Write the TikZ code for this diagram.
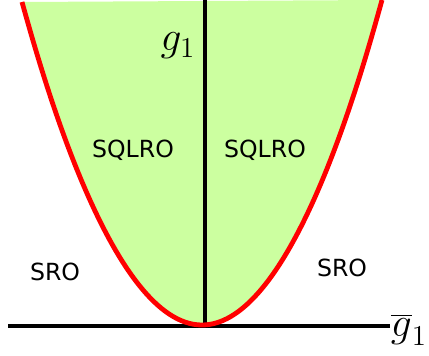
\documentclass[tikz,border=0pt]{standalone}
\usepackage{fontspec}
\newfontfamily\regionfont{DejaVu Sans}
\definecolor{sqlrogreen}{RGB}{204,255,160}
\definecolor{curvered}{HTML}{FF0000}
\usepackage{tikz}
\usetikzlibrary{calc, positioning}

\begin{document}
\begin{tikzpicture}[x=0.5pt, y=-0.5pt,
    axis/.style={black, line width=1.6pt},
    boundary/.style={curvered, line width=2.4pt},
    region/.style={font=\fontsize{11.8}{14}\selectfont\regionfont},
    axislabel/.style={font=\fontsize{20}{24}\selectfont}]
  \useasboundingbox (0,0) rectangle (429,355);
  % corners of the phase diagram
  \coordinate (origin) at (205,326);
  \coordinate (left) at (8,326);
  \coordinate (right) at (390,326);
  \coordinate (top) at (205,0);
  \coordinate (tl) at (22,2);
  \coordinate (bend) at (202,325);
  \coordinate (tr) at (382,0);
  % SQLRO region
  \fill[sqlrogreen] (tl) parabola bend (bend) (tr) -- cycle;
  \draw[axis] (left) -- (right);
  \draw[axis] (origin) -- (top);
  \draw[boundary] (tl) parabola bend (bend) (tr);
  \foreach \x/\y/\name/\txt in {
    133/150/sqlroL/SQLRO,
    265/150/sqlroR/SQLRO,
    55/272/sroL/SRO,
    342/268/sroR/SRO} {
    \node[region] (\name) at (\x,\y) {\txt};
  }
  \node[axislabel] (gone) at (178,46) {$g_1$};
  \node[axislabel] (gbar) at (409,330) {$\overline{g}_1$};
\end{tikzpicture}
\end{document}
